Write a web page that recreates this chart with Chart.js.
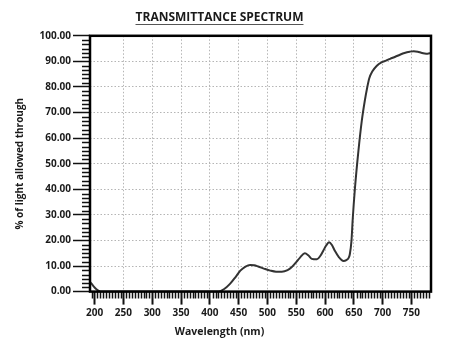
<!DOCTYPE html>
<html>
<head>
<meta charset="utf-8">
<script src="https://cdn.jsdelivr.net/npm/chart.js@4.4.1/dist/chart.umd.min.js"></script>
<style>
  html, body { margin: 0; padding: 0; background: #ffffff; }
  #wrap { width: 463px; height: 352px; position: relative; }
</style>
</head>
<body>
<div id="wrap"><canvas id="c" width="463" height="352"></canvas></div>
<script>
// ---- Data ----
const wavelengths = [192,195,200,205,210,215,300,400,415,425,435,445,453,462,470,477,484,495,505,515,525,535,542,550,557,565,571,577,586,592,597,602,607,612,617,624,632,637,641,643,646,648,652,658,664,669,673,677,682,690,698,706,713,722,730,738,747,754,761,767,773,778,784];
const transmittance = [3.8,3.0,1.6,0.6,0.1,0,0,0,0,1.0,3.0,5.8,8.2,9.8,10.4,10.3,9.8,8.9,8.2,7.8,7.8,8.4,9.5,11.5,13.4,15.0,14.2,12.8,12.6,14.0,16.0,18.0,19.3,18.2,16.0,13.5,12.0,12.3,13.2,14.5,20.0,28.0,40.5,55.0,67.0,74.5,79.5,83.5,86.0,88.3,89.6,90.3,91.0,91.8,92.6,93.3,93.8,94.0,93.8,93.4,93.1,93.0,93.3];
const xTickValues = [200,250,300,350,400,450,500,550,600,650,700,750];
const yTickValues = [0,10,20,30,40,50,60,70,80,90,100];
const titleText = 'TRANSMITTANCE SPECTRUM';
const xTitleText = 'Wavelength (nm)';
const yTitleText = '% of light allowed through';

const FONT = "'Open Sans', 'DejaVu Sans', sans-serif";
const INK = '#1a1a1a';

const points = wavelengths.map((w, i) => ({ x: w, y: transmittance[i] }));

const framePlugin = {
  id: 'frameAndMinorTicks',
  afterDraw(chart) {
    const { ctx, chartArea: a, scales: { x, y } } = chart;
    ctx.save();
    // minor ticks
    ctx.strokeStyle = '#111';
    ctx.lineWidth = 1.5;
    ctx.beginPath();
    for (let v = Math.ceil(x.min / 5) * 5; v <= x.max; v += 5) {
      if (v % 50 === 0) continue;
      const px = Math.round(x.getPixelForValue(v)) + 0.5;
      ctx.moveTo(px, a.bottom);
      ctx.lineTo(px, a.bottom + 7);
    }
    for (let i = 1; i < 60; i++) {
      if (i % 6 === 0) continue;
      const py = Math.round(y.getPixelForValue(i * 10 / 6)) + 0.5;
      ctx.moveTo(a.left - 8, py);
      ctx.lineTo(a.left, py);
    }
    ctx.stroke();
    // frame
    ctx.lineWidth = 2.5;
    ctx.strokeStyle = '#000';
    ctx.strokeRect(a.left, a.top, a.right - a.left, a.bottom - a.top);
    // title underline
    const tb = chart.titleBlock;
    if (tb) {
      const f = Chart.helpers.toFont(chart.options.plugins.title.font);
      ctx.font = f.string;
      const w = ctx.measureText(titleText).width;
      const cx = (tb.left + tb.right) / 2;
      const yy = tb.top + 10 + f.lineHeight / 2 + 6.5;
      ctx.strokeStyle = '#555';
      ctx.lineWidth = 1;
      ctx.beginPath();
      ctx.moveTo(cx - w / 2, Math.round(yy) + 0.5);
      ctx.lineTo(cx + w / 2, Math.round(yy) + 0.5);
      ctx.stroke();
    }
    ctx.restore();
  }
};

new Chart(document.getElementById('c'), {
  type: 'line',
  data: {
    datasets: [{
      data: points,
      borderColor: '#333333',
      borderWidth: 2,
      pointRadius: 0,
      fill: false,
      cubicInterpolationMode: 'monotone'
    }]
  },
  options: {
    responsive: false,
    animation: false,
    devicePixelRatio: 1,
    layout: { padding: { left: 8, right: 32, top: 0, bottom: 0 } },
    plugins: {
      legend: { display: false },
      tooltip: { enabled: false },
      title: {
        display: true,
        text: titleText,
        color: INK,
        font: { family: FONT, size: 12, weight: 'bold' },
        padding: { top: 10, bottom: 11.4 }
      },
      subtitle: {
        display: true,
        position: 'bottom',
        text: xTitleText,
        color: INK,
        font: { family: FONT, size: 10.5, weight: 'bold' },
        padding: { top: 4, bottom: 14 }
      }
    },
    scales: {
      x: {
        type: 'linear',
        min: 192,
        max: 784,
        afterBuildTicks: s => { s.ticks = xTickValues.map(v => ({ value: v })); },
        afterFit: s => { s.height = 29.8; },
        ticks: {
          autoSkip: false,
          maxRotation: 0,
          padding: 3,
          color: INK,
          font: { family: FONT, size: 10, weight: 'bold' },
          callback: v => String(v)
        },
        grid: {
          drawOnChartArea: true,
          color: c => (c.tick && c.tick.value === 200) ? 'rgba(0,0,0,0)' : '#b5b5b5',
          lineWidth: 1,
          tickLength: 13,
          tickColor: '#111',
          tickWidth: 2
        },
        border: { display: false, dash: [1.5, 2] }
      },
      y: {
        min: 0,
        max: 100,
        afterBuildTicks: s => { s.ticks = yTickValues.map(v => ({ value: v })); },
        afterFit: s => { s.width = 82; },
        ticks: {
          padding: 2,
          color: INK,
          font: { family: FONT, size: 10, weight: 'bold' },
          callback: v => Number(v).toFixed(2)
        },
        grid: {
          color: c => (c.tick && (c.tick.value === 0 || c.tick.value === 100)) ? 'rgba(0,0,0,0)' : '#b5b5b5',
          lineWidth: 1,
          tickLength: 17,
          tickColor: '#111',
          tickWidth: 1.5
        },
        border: { display: false, dash: [1.5, 2] },
        title: {
          display: true,
          text: yTitleText,
          color: INK,
          font: { family: FONT, size: 10, weight: 'bold' },
          padding: { top: 6, bottom: 0 }
        }
      }
    }
  },
  plugins: [framePlugin]
});
</script>
</body>
</html>
